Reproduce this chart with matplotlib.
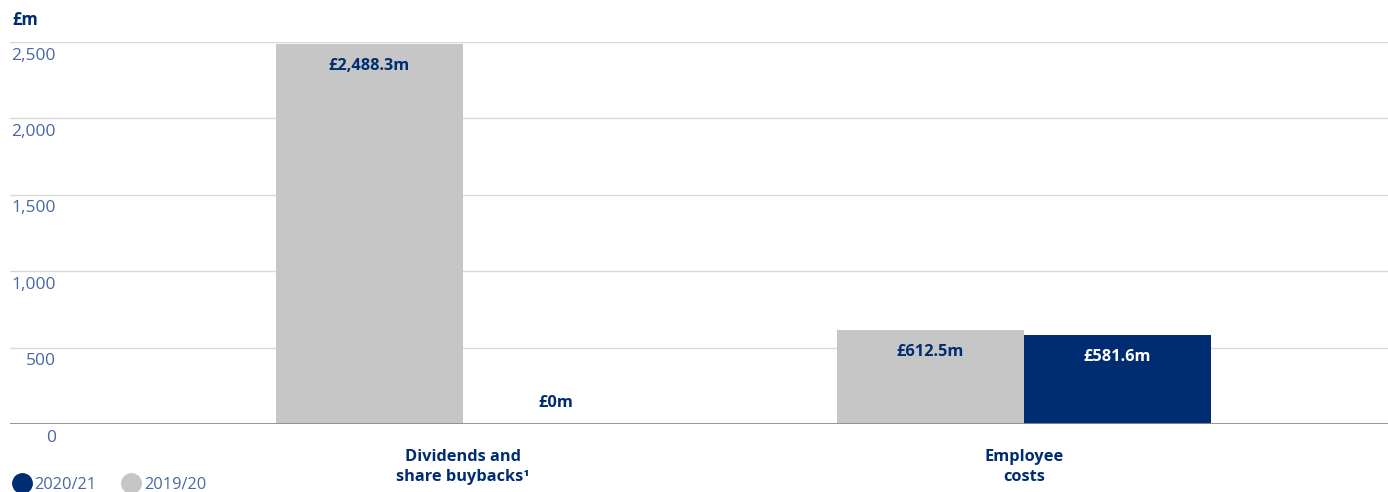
import matplotlib
matplotlib.use("Agg")
import matplotlib.pyplot as plt
import numpy as np
from matplotlib.lines import Line2D

categories = ["Dividends and\nshare buybacks\u00b9", "Employee\ncosts"]
series_names = ["2020/21", "2019/20"]
values_2019 = [2488.3, 612.5]
values_2020 = [0.0, 581.6]
labels_2019 = ["£2,488.3m", "£612.5m"]
labels_2020 = ["£0m", "£581.6m"]
yticks = [0, 500, 1000, 1500, 2000, 2500]
ytick_labels = ["0", "500", "1,000", "1,500", "2,000", "2,500"]

NAVY = "#002D72"
GREY = "#C6C6C6"
TICK = "#4A68A5"

plt.rcParams['font.family'] = ['Open Sans', 'DejaVu Sans']

fig = plt.figure(figsize=(13.88, 4.92), dpi=100)
ax = fig.add_axes([10/1388, 68/492, 1378/1388, 382/492])

x = np.arange(len(categories))
w = 0.333
ax.bar(x - w/2, values_2019, width=w, color=GREY, zorder=2)
ax.bar(x + w/2, values_2020, width=w, color=NAVY, zorder=2)

ax.set_xlim(-0.807, 1.649)
ax.set_ylim(0, 2500)

for xi, v, lab in zip(x, values_2019, labels_2019):
    ax.annotate(lab, (xi - w/2, v), xytext=(0, -10), textcoords="offset points",
                ha="center", va="top", fontsize=11.8, fontweight="bold", color=NAVY)
for xi, v, lab in zip(x, values_2020, labels_2020):
    if v > 0:
        ax.annotate(lab, (xi + w/2, v), xytext=(0, -10), textcoords="offset points",
                    ha="center", va="top", fontsize=11.8, fontweight="bold", color="white")
    else:
        ax.annotate(lab, (xi + w/2, v), xytext=(0, 15), textcoords="offset points",
                    ha="center", va="center", fontsize=11.8, fontweight="bold", color=NAVY)

for t in yticks[1:]:
    ax.axhline(t, color="#D9D9D9", lw=1, zorder=1)
ax.axhline(0, color="#8C8C8C", lw=2, zorder=3)

for sp in ax.spines.values():
    sp.set_visible(False)
ax.set_xticks([])
ax.set_yticks([])

for t, lab in zip(yticks, ytick_labels):
    ax.annotate(lab, (0, t), xycoords=("axes fraction", "data"), xytext=(33, -4),
                textcoords="offset points", ha="right", va="top", fontsize=12.5,
                color=TICK)

for xi, cat in zip(x, categories):
    ax.annotate(cat, (xi, 0), xytext=(0, -18), textcoords="offset points",
                ha="center", va="top", fontsize=11.8, fontweight="bold", color=NAVY,
                linespacing=1.35)

fig.text(12/1388, 1 - 20/492, "£m", ha="left", va="center", fontsize=12,
         fontweight="bold", color=NAVY)

handles = [Line2D([], [], marker="o", ls="", markersize=14, color=NAVY),
           Line2D([], [], marker="o", ls="", markersize=14, color=GREY)]
leg = fig.legend(handles, series_names, loc="lower left", bbox_to_anchor=(-0.001, -0.022),
                 ncol=2, frameon=False, handletextpad=0.0, columnspacing=1.3,
                 fontsize=11.8, borderaxespad=0.2, handlelength=1.6)
for t in leg.get_texts():
    t.set_color(TICK)

fig.savefig("out.png", dpi=100)
